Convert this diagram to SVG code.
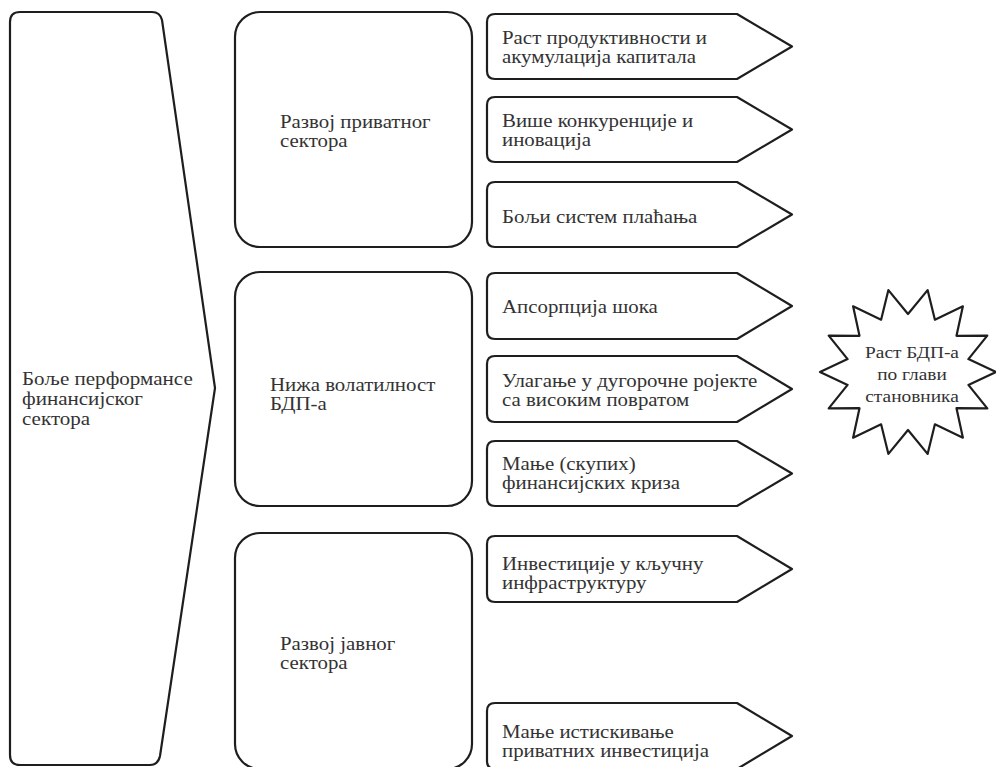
<svg xmlns="http://www.w3.org/2000/svg" width="996" height="767" viewBox="0 0 996 767">
<style>
.shape{fill:#fff;stroke:#1e1e1e;stroke-width:2.2;stroke-linejoin:round}
.t{font-family:"Liberation Serif","DejaVu Serif",serif;font-size:18px;fill:#333}
.tc{font-family:"Liberation Serif","DejaVu Serif",serif;font-size:17px;fill:#333;text-anchor:middle}
</style>
<rect width="996" height="767" fill="#fff"/>
<g id="connectors"></g>
<g id="finance">
<path class="shape" d="M20 12 H152 Q160 12 162 20 L215 388 L160 756 Q158 765 150 765 H20 Q10 765 10 755 V22 Q10 12 20 12 Z"/>
<g transform="translate(22 0) scale(1.17 1)">
<text class="t" x="0" y="385">Боље перформансе</text>
<text class="t" x="0" y="405">финансијског</text>
<text class="t" x="0" y="425">сектора</text>
</g>
</g>
<g id="private">
<rect class="shape" x="235" y="12" width="237" height="235" rx="25"/>
<g transform="translate(280 0) scale(1.16 1)">
<text class="t" x="0" y="128">Развој приватног</text>
<text class="t" x="0" y="147">сектора</text>
</g>
</g>
<g id="volatility">
<rect class="shape" x="235" y="272" width="237" height="234" rx="25"/>
<g transform="translate(270 0) scale(1.16 1)">
<text class="t" x="0" y="391">Нижа волатилност</text>
<text class="t" x="0" y="410">БДП-а</text>
</g>
</g>
<g id="public">
<rect class="shape" x="235" y="533" width="237" height="236" rx="25"/>
<g transform="translate(280 0) scale(1.16 1)">
<text class="t" x="0" y="650">Развој јавног</text>
<text class="t" x="0" y="669">сектора</text>
</g>
</g>
<g id="a1">
<path class="shape" d="M495 14 H737 L792 46.5 L737 79 H495 Q487 79 487 71 V22 Q487 14 495 14 Z"/>
<g transform="translate(502 0) scale(1.16 1)">
<text class="t" x="0" y="44">Раст продуктивности и</text>
<text class="t" x="0" y="63">акумулација капитала</text>
</g>
</g>
<g id="a2">
<path class="shape" d="M495 97 H737 L792 129.5 L737 162 H495 Q487 162 487 154 V105 Q487 97 495 97 Z"/>
<g transform="translate(502 0) scale(1.16 1)">
<text class="t" x="0" y="127">Више конкуренције и</text>
<text class="t" x="0" y="146">иновација</text>
</g>
</g>
<g id="a3">
<path class="shape" d="M495 182 H737 L792 214.5 L737 247 H495 Q487 247 487 239 V190 Q487 182 495 182 Z"/>
<g transform="translate(502 0) scale(1.16 1)">
<text class="t" x="0" y="223">Бољи систем плаћања</text>
</g>
</g>
<g id="a4">
<path class="shape" d="M495 273 H737 L792 306 L737 339 H495 Q487 339 487 331 V281 Q487 273 495 273 Z"/>
<g transform="translate(502 0) scale(1.16 1)">
<text class="t" x="0" y="313">Апсорпција шока</text>
</g>
</g>
<g id="a5">
<path class="shape" d="M495 356 H737 L792 389 L737 422 H495 Q487 422 487 414 V364 Q487 356 495 356 Z"/>
<g transform="translate(502 0) scale(1.16 1)">
<text class="t" x="0" y="387">Улагање у дугорочне ројекте</text>
<text class="t" x="0" y="406">са високим повратом</text>
</g>
</g>
<g id="a6">
<path class="shape" d="M495 441 H737 L792 473.5 L737 506 H495 Q487 506 487 498 V449 Q487 441 495 441 Z"/>
<g transform="translate(502 0) scale(1.16 1)">
<text class="t" x="0" y="470">Мање (скупих)</text>
<text class="t" x="0" y="489">финансијских криза</text>
</g>
</g>
<g id="a7">
<path class="shape" d="M495 536 H737 L792 569 L737 602 H495 Q487 602 487 594 V544 Q487 536 495 536 Z"/>
<g transform="translate(502 0) scale(1.16 1)">
<text class="t" x="0" y="570">Инвестиције у кључну</text>
<text class="t" x="0" y="589">инфраструктуру</text>
</g>
</g>
<g id="a8">
<path class="shape" d="M495 703 H737 L792 736 L737 769 H495 Q487 769 487 761 V711 Q487 703 495 703 Z"/>
<g transform="translate(502 0) scale(1.16 1)">
<text class="t" x="0" y="738">Мање истискивање</text>
<text class="t" x="0" y="757">приватних инвестиција</text>
</g>
</g>
<g id="growth">
<polygon class="shape" transform="translate(908 372)" points="19.6,-81.9 26.9,-52.3 54.9,-65.7 48.5,-36.2 79.3,-36.4 60.4,-12.9 88,0 60.4,12.9 79.3,36.4 48.5,36.2 54.9,65.7 26.9,52.3 19.6,81.9 0,58 -19.6,81.9 -26.9,52.3 -54.9,65.7 -48.5,36.2 -79.3,36.4 -60.4,12.9 -88,0 -60.4,-12.9 -79.3,-36.4 -48.5,-36.2 -54.9,-65.7 -26.9,-52.3 -19.6,-81.9 0,-58"/>
<g transform="translate(912 0) scale(1.14 1)">
<text class="tc" x="0" y="358">Раст БДП-а</text>
<text class="tc" x="0" y="380">по глави</text>
<text class="tc" x="0" y="402">становника</text>
</g>
</g>
</svg>
